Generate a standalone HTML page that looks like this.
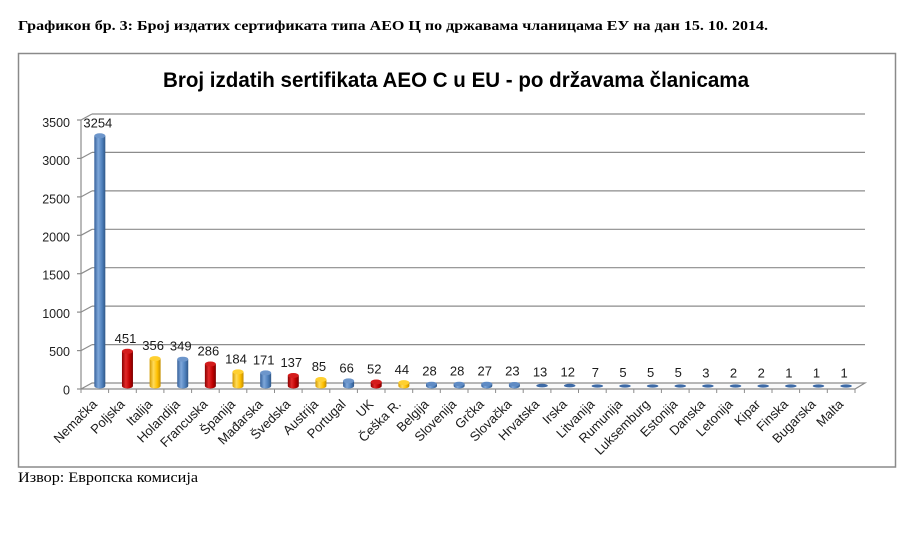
<!DOCTYPE html>
<html>
<head>
<meta charset="utf-8">
<style>
html,body{margin:0;padding:0;background:#fff;}
svg{display:block;}
</style>
</head>
<body>
<svg width="919" height="536" viewBox="0 0 919 536" xmlns="http://www.w3.org/2000/svg">
<defs>
<linearGradient id="gb" x1="0" y1="0" x2="1" y2="0">
<stop offset="0" stop-color="#35609a"/><stop offset="0.35" stop-color="#7ea7da"/><stop offset="0.7" stop-color="#4f81bd"/><stop offset="1" stop-color="#2f5788"/>
</linearGradient>
<linearGradient id="gr" x1="0" y1="0" x2="1" y2="0">
<stop offset="0" stop-color="#8a0000"/><stop offset="0.35" stop-color="#e22a2a"/><stop offset="0.7" stop-color="#c00000"/><stop offset="1" stop-color="#7a0000"/>
</linearGradient>
<linearGradient id="gy" x1="0" y1="0" x2="1" y2="0">
<stop offset="0" stop-color="#d49a00"/><stop offset="0.35" stop-color="#ffdb5a"/><stop offset="0.7" stop-color="#ffc000"/><stop offset="1" stop-color="#c18c00"/>
</linearGradient>
</defs>
<rect width="919" height="536" fill="#fff"/>

<text x="18" y="30" font-family="Liberation Serif, serif" font-weight="bold" font-size="14" textLength="750" lengthAdjust="spacingAndGlyphs" fill="#000">Графикон бр. 3: Број издатих сертификата типа АЕО Ц по државама чланицама ЕУ на дан 15. 10. 2014.</text>

<rect x="18.5" y="53.5" width="877" height="413.5" fill="#fff" stroke="#8a8a8a" stroke-width="1.5"/>

<text x="163" y="87" font-family="Liberation Sans, sans-serif" font-weight="bold" font-size="21" textLength="586" lengthAdjust="spacingAndGlyphs" fill="#000">Broj izdatih sertifikata AEO C u EU - po državama članicama</text>

<!-- gridlines back wall -->
<g stroke="#8c8c8c" stroke-width="1.2" fill="none">
<line x1="92" y1="114" x2="865" y2="114"/>
<line x1="92" y1="152.4" x2="865" y2="152.4"/>
<line x1="92" y1="190.9" x2="865" y2="190.9"/>
<line x1="92" y1="229.3" x2="865" y2="229.3"/>
<line x1="92" y1="267.7" x2="865" y2="267.7"/>
<line x1="92" y1="306.1" x2="865" y2="306.1"/>
<line x1="92" y1="344.6" x2="865" y2="344.6"/>
<!-- diagonals -->
<line x1="81" y1="120" x2="92" y2="114"/>
<line x1="81" y1="158.4" x2="92" y2="152.4"/>
<line x1="81" y1="196.9" x2="92" y2="190.9"/>
<line x1="81" y1="235.3" x2="92" y2="229.3"/>
<line x1="81" y1="273.7" x2="92" y2="267.7"/>
<line x1="81" y1="312.1" x2="92" y2="306.1"/>
<line x1="81" y1="350.6" x2="92" y2="344.6"/>
<!-- left ticks -->
<line x1="77" y1="120" x2="81" y2="120"/>
<line x1="77" y1="158.4" x2="81" y2="158.4"/>
<line x1="77" y1="196.9" x2="81" y2="196.9"/>
<line x1="77" y1="235.3" x2="81" y2="235.3"/>
<line x1="77" y1="273.7" x2="81" y2="273.7"/>
<line x1="77" y1="312.1" x2="81" y2="312.1"/>
<line x1="77" y1="350.6" x2="81" y2="350.6"/>
<line x1="77" y1="389" x2="81" y2="389"/>
<!-- floor -->
<polygon points="81,389 855,389 865,383 92,383" fill="#fafafa"/>
<!-- y axis -->
<line x1="81" y1="120" x2="81" y2="389"/>
</g>

<!-- category ticks -->
<g stroke="#8c8c8c" stroke-width="1">
<line x1="81" y1="389" x2="81" y2="393"/><line x1="108.6" y1="389" x2="108.6" y2="393"/><line x1="136.3" y1="389" x2="136.3" y2="393"/><line x1="163.9" y1="389" x2="163.9" y2="393"/><line x1="191.6" y1="389" x2="191.6" y2="393"/><line x1="219.2" y1="389" x2="219.2" y2="393"/><line x1="246.8" y1="389" x2="246.8" y2="393"/><line x1="274.5" y1="389" x2="274.5" y2="393"/><line x1="302.1" y1="389" x2="302.1" y2="393"/><line x1="329.8" y1="389" x2="329.8" y2="393"/><line x1="357.4" y1="389" x2="357.4" y2="393"/><line x1="385" y1="389" x2="385" y2="393"/><line x1="412.7" y1="389" x2="412.7" y2="393"/><line x1="440.3" y1="389" x2="440.3" y2="393"/><line x1="468" y1="389" x2="468" y2="393"/><line x1="495.6" y1="389" x2="495.6" y2="393"/><line x1="523.2" y1="389" x2="523.2" y2="393"/><line x1="550.9" y1="389" x2="550.9" y2="393"/><line x1="578.5" y1="389" x2="578.5" y2="393"/><line x1="606.2" y1="389" x2="606.2" y2="393"/><line x1="633.8" y1="389" x2="633.8" y2="393"/><line x1="661.4" y1="389" x2="661.4" y2="393"/><line x1="689.1" y1="389" x2="689.1" y2="393"/><line x1="716.7" y1="389" x2="716.7" y2="393"/><line x1="744.4" y1="389" x2="744.4" y2="393"/><line x1="772" y1="389" x2="772" y2="393"/><line x1="799.6" y1="389" x2="799.6" y2="393"/><line x1="827.3" y1="389" x2="827.3" y2="393"/><line x1="855" y1="389" x2="855" y2="393"/>
</g>

<!-- y labels -->
<g font-family="Liberation Sans, sans-serif" font-size="12.5" fill="#222" text-anchor="end">
<text x="70" y="126.9">3500</text>
<text x="70" y="165.1">3000</text>
<text x="70" y="203.3">2500</text>
<text x="70" y="241.5">2000</text>
<text x="70" y="279.7">1500</text>
<text x="70" y="317.9">1000</text>
<text x="70" y="356.1">500</text>
<text x="70" y="394.3">0</text>
</g>

<g font-family="Liberation Sans, sans-serif" font-size="13" fill="#1a1a1a">

<g transform="translate(97.82,0)">
<path d="M-3.5,135.8 L-3.5,386 A5.5,2.5 0 0 0 7.5,386 L7.5,135.8 Z" fill="url(#gb)"/>
<ellipse cx="2" cy="135.8" rx="5.5" ry="2.5" fill="#6d96cb"/>
<text x="0" y="127.3" text-anchor="middle">3254</text>
<text transform="translate(0,405) rotate(-45)" text-anchor="end">Nemačka</text>
</g>

<g transform="translate(125.46,0)">
<path d="M-3.5,351.3 L-3.5,386 A5.5,2.5 0 0 0 7.5,386 L7.5,351.3 Z" fill="url(#gr)"/>
<ellipse cx="2" cy="351.3" rx="5.5" ry="2.5" fill="#d41c1c"/>
<text x="0" y="342.8" text-anchor="middle">451</text>
<text transform="translate(0,405) rotate(-45)" text-anchor="end">Poljska</text>
</g>

<g transform="translate(153.10,0)">
<path d="M-3.5,358.6 L-3.5,386 A5.5,2.5 0 0 0 7.5,386 L7.5,358.6 Z" fill="url(#gy)"/>
<ellipse cx="2" cy="358.6" rx="5.5" ry="2.5" fill="#ffd030"/>
<text x="0" y="350.1" text-anchor="middle">356</text>
<text transform="translate(0,405) rotate(-45)" text-anchor="end">Italija</text>
</g>

<g transform="translate(180.74,0)">
<path d="M-3.5,359.2 L-3.5,386 A5.5,2.5 0 0 0 7.5,386 L7.5,359.2 Z" fill="url(#gb)"/>
<ellipse cx="2" cy="359.2" rx="5.5" ry="2.5" fill="#6d96cb"/>
<text x="0" y="350.7" text-anchor="middle">349</text>
<text transform="translate(0,405) rotate(-45)" text-anchor="end">Holandija</text>
</g>

<g transform="translate(208.38,0)">
<path d="M-3.5,364 L-3.5,386 A5.5,2.5 0 0 0 7.5,386 L7.5,364 Z" fill="url(#gr)"/>
<ellipse cx="2" cy="364" rx="5.5" ry="2.5" fill="#d41c1c"/>
<text x="0" y="355.5" text-anchor="middle">286</text>
<text transform="translate(0,405) rotate(-45)" text-anchor="end">Francuska</text>
</g>

<g transform="translate(236.02,0)">
<path d="M-3.5,371.9 L-3.5,386 A5.5,2.5 0 0 0 7.5,386 L7.5,371.9 Z" fill="url(#gy)"/>
<ellipse cx="2" cy="371.9" rx="5.5" ry="2.5" fill="#ffd030"/>
<text x="0" y="363.4" text-anchor="middle">184</text>
<text transform="translate(0,405) rotate(-45)" text-anchor="end">Španija</text>
</g>

<g transform="translate(263.66,0)">
<path d="M-3.5,372.9 L-3.5,386 A5.5,2.5 0 0 0 7.5,386 L7.5,372.9 Z" fill="url(#gb)"/>
<ellipse cx="2" cy="372.9" rx="5.5" ry="2.5" fill="#6d96cb"/>
<text x="0" y="364.4" text-anchor="middle">171</text>
<text transform="translate(0,405) rotate(-45)" text-anchor="end">Mađarska</text>
</g>

<g transform="translate(291.30,0)">
<path d="M-3.5,375.5 L-3.5,386 A5.5,2.5 0 0 0 7.5,386 L7.5,375.5 Z" fill="url(#gr)"/>
<ellipse cx="2" cy="375.5" rx="5.5" ry="2.5" fill="#d41c1c"/>
<text x="0" y="367" text-anchor="middle">137</text>
<text transform="translate(0,405) rotate(-45)" text-anchor="end">Švedska</text>
</g>

<g transform="translate(318.94,0)">
<path d="M-3.5,379.5 L-3.5,386 A5.5,2.5 0 0 0 7.5,386 L7.5,379.5 Z" fill="url(#gy)"/>
<ellipse cx="2" cy="379.5" rx="5.5" ry="2.5" fill="#ffd030"/>
<text x="0" y="371" text-anchor="middle">85</text>
<text transform="translate(0,405) rotate(-45)" text-anchor="end">Austrija</text>
</g>

<g transform="translate(346.58,0)">
<path d="M-3.5,380.9 L-3.5,386 A5.5,2.5 0 0 0 7.5,386 L7.5,380.9 Z" fill="url(#gb)"/>
<ellipse cx="2" cy="380.9" rx="5.5" ry="2.5" fill="#6d96cb"/>
<text x="0" y="372.4" text-anchor="middle">66</text>
<text transform="translate(0,405) rotate(-45)" text-anchor="end">Portugal</text>
</g>

<g transform="translate(374.22,0)">
<path d="M-3.5,382 L-3.5,386 A5.5,2.5 0 0 0 7.5,386 L7.5,382 Z" fill="url(#gr)"/>
<ellipse cx="2" cy="382" rx="5.5" ry="2.5" fill="#d41c1c"/>
<text x="0" y="373.5" text-anchor="middle">52</text>
<text transform="translate(0,405) rotate(-45)" text-anchor="end">UK</text>
</g>

<g transform="translate(401.86,0)">
<path d="M-3.5,382.6 L-3.5,386 A5.5,2.5 0 0 0 7.5,386 L7.5,382.6 Z" fill="url(#gy)"/>
<ellipse cx="2" cy="382.6" rx="5.5" ry="2.5" fill="#ffd030"/>
<text x="0" y="374.1" text-anchor="middle">44</text>
<text transform="translate(0,405) rotate(-45)" text-anchor="end">Češka R.</text>
</g>

<g transform="translate(429.50,0)">
<path d="M-3.5,383.9 L-3.5,386 A5.5,2.5 0 0 0 7.5,386 L7.5,383.9 Z" fill="url(#gb)"/>
<ellipse cx="2" cy="383.9" rx="5.5" ry="2.2" fill="#5f8bc4"/>
<text x="0" y="375.4" text-anchor="middle">28</text>
<text transform="translate(0,405) rotate(-45)" text-anchor="end">Belgija</text>
</g>

<g transform="translate(457.14,0)">
<path d="M-3.5,383.9 L-3.5,386 A5.5,2.5 0 0 0 7.5,386 L7.5,383.9 Z" fill="url(#gb)"/>
<ellipse cx="2" cy="383.9" rx="5.5" ry="2.2" fill="#5f8bc4"/>
<text x="0" y="375.4" text-anchor="middle">28</text>
<text transform="translate(0,405) rotate(-45)" text-anchor="end">Slovenija</text>
</g>

<g transform="translate(484.78,0)">
<path d="M-3.5,383.9 L-3.5,386 A5.5,2.5 0 0 0 7.5,386 L7.5,383.9 Z" fill="url(#gb)"/>
<ellipse cx="2" cy="383.9" rx="5.5" ry="2.2" fill="#5f8bc4"/>
<text x="0" y="375.4" text-anchor="middle">27</text>
<text transform="translate(0,405) rotate(-45)" text-anchor="end">Grčka</text>
</g>

<g transform="translate(512.42,0)">
<path d="M-3.5,384.2 L-3.5,386 A5.5,2.5 0 0 0 7.5,386 L7.5,384.2 Z" fill="url(#gb)"/>
<ellipse cx="2" cy="384.2" rx="5.5" ry="2.2" fill="#5f8bc4"/>
<text x="0" y="375.7" text-anchor="middle">23</text>
<text transform="translate(0,405) rotate(-45)" text-anchor="end">Slovačka</text>
</g>

<g transform="translate(540.06,0)">
<ellipse cx="2" cy="385.6" rx="5.8" ry="1.8" fill="#3d6aa6"/>
<text x="0" y="376.5" text-anchor="middle">13</text>
<text transform="translate(0,405) rotate(-45)" text-anchor="end">Hrvatska</text>
</g>

<g transform="translate(567.70,0)">
<ellipse cx="2" cy="385.6" rx="5.8" ry="1.8" fill="#3d6aa6"/>
<text x="0" y="376.6" text-anchor="middle">12</text>
<text transform="translate(0,405) rotate(-45)" text-anchor="end">Irska</text>
</g>

<g transform="translate(595.34,0)">
<ellipse cx="2" cy="386" rx="5.8" ry="1.6" fill="#3d6aa6"/>
<text x="0" y="377" text-anchor="middle">7</text>
<text transform="translate(0,405) rotate(-45)" text-anchor="end">Litvanija</text>
</g>

<g transform="translate(622.98,0)">
<ellipse cx="2" cy="386" rx="5.8" ry="1.6" fill="#3d6aa6"/>
<text x="0" y="377.1" text-anchor="middle">5</text>
<text transform="translate(0,405) rotate(-45)" text-anchor="end">Rumunija</text>
</g>

<g transform="translate(650.62,0)">
<ellipse cx="2" cy="386" rx="5.8" ry="1.6" fill="#3d6aa6"/>
<text x="0" y="377.1" text-anchor="middle">5</text>
<text transform="translate(0,405) rotate(-45)" text-anchor="end">Luksemburg</text>
</g>

<g transform="translate(678.26,0)">
<ellipse cx="2" cy="386" rx="5.8" ry="1.6" fill="#3d6aa6"/>
<text x="0" y="377.1" text-anchor="middle">5</text>
<text transform="translate(0,405) rotate(-45)" text-anchor="end">Estonija</text>
</g>

<g transform="translate(705.90,0)">
<ellipse cx="2" cy="386" rx="5.8" ry="1.6" fill="#3d6aa6"/>
<text x="0" y="377.3" text-anchor="middle">3</text>
<text transform="translate(0,405) rotate(-45)" text-anchor="end">Danska</text>
</g>

<g transform="translate(733.54,0)">
<ellipse cx="2" cy="386" rx="5.8" ry="1.6" fill="#3d6aa6"/>
<text x="0" y="377.4" text-anchor="middle">2</text>
<text transform="translate(0,405) rotate(-45)" text-anchor="end">Letonija</text>
</g>

<g transform="translate(761.18,0)">
<ellipse cx="2" cy="386" rx="5.8" ry="1.6" fill="#3d6aa6"/>
<text x="0" y="377.4" text-anchor="middle">2</text>
<text transform="translate(0,405) rotate(-45)" text-anchor="end">Kipar</text>
</g>

<g transform="translate(788.82,0)">
<ellipse cx="2" cy="386" rx="5.8" ry="1.6" fill="#3d6aa6"/>
<text x="0" y="377.4" text-anchor="middle">1</text>
<text transform="translate(0,405) rotate(-45)" text-anchor="end">Finska</text>
</g>

<g transform="translate(816.46,0)">
<ellipse cx="2" cy="386" rx="5.8" ry="1.6" fill="#3d6aa6"/>
<text x="0" y="377.4" text-anchor="middle">1</text>
<text transform="translate(0,405) rotate(-45)" text-anchor="end">Bugarska</text>
</g>

<g transform="translate(844.10,0)">
<ellipse cx="2" cy="386" rx="5.8" ry="1.6" fill="#3d6aa6"/>
<text x="0" y="377.4" text-anchor="middle">1</text>
<text transform="translate(0,405) rotate(-45)" text-anchor="end">Malta</text>
</g>

</g>

<text x="18" y="482" font-family="Liberation Serif, serif" font-size="14.5" textLength="180" lengthAdjust="spacingAndGlyphs" fill="#000">Извор: Европска комисија</text>
</svg>
</body>
</html>
